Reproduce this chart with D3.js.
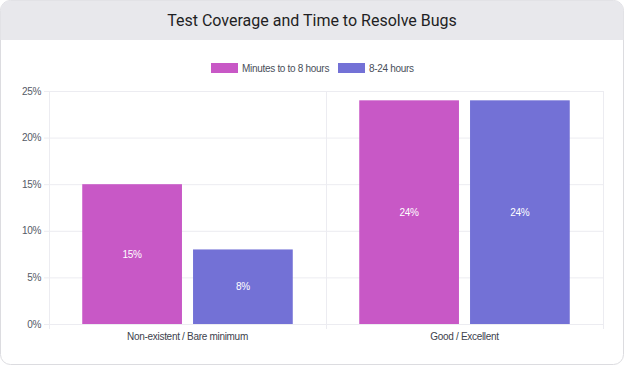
<!DOCTYPE html>
<html><head><meta charset="utf-8">
<script src="https://cdn.jsdelivr.net/npm/d3@7"></script>
<style>html,body{margin:0;padding:0;background:#fff;}svg{display:block;}</style>
</head><body>
<svg id="chart" width="624" height="365"></svg>
<script>
const title = "Test Coverage and Time to Resolve Bugs";
const categories = ["Non-existent / Bare minimum", "Good / Excellent"];
const seriesNames = ["Minutes to to 8 hours", "8-24 hours"];
const seriesColors = ["#c858c6", "#7371d6"];
const minutesTo8h = [15, 24];
const hours8to24 = [8, 24];
const yTicks = [0, 5, 10, 15, 20, 25];

const series = [minutesTo8h, hours8to24];
const svg = d3.select("#chart");
const W = 624, H = 365;
const font = "'Liberation Sans', Arial, sans-serif";
const fs = 10, ls = -0.3;

// card
svg.append("rect").attr("x",0.5).attr("y",0.5).attr("width",W-1).attr("height",H-1)
  .attr("rx",10).attr("fill","#fff").attr("stroke","#dcdce0");
const clip = svg.append("defs").append("clipPath").attr("id","cc");
clip.append("rect").attr("x",0.5).attr("y",0.5).attr("width",W-1).attr("height",H-1).attr("rx",10);
svg.append("rect").attr("x",0).attr("y",0).attr("width",W).attr("height",40)
  .attr("fill","#e8e8ec").attr("clip-path","url(#cc)");
svg.append("text").attr("x",W/2).attr("y",26).attr("text-anchor","middle")
  .attr("font-family","Roboto, sans-serif").attr("font-size",16).attr("fill","#1f1f24")
  .text(title);

// scales
const m = {l:49, r:603, t:91, b:324};
const x0 = d3.scaleBand().domain(categories).range([m.l, m.r]).paddingInner(0).paddingOuter(0);
const x1 = d3.scaleBand().domain(seriesNames).range([0, x0.bandwidth()*0.8]).paddingInner(0.1).paddingOuter(0.05);
const y = d3.scaleLinear().domain([0,25]).range([m.b, m.t]);

// grid
const g = svg.append("g");
g.selectAll("line.h").data(yTicks).join("line")
  .attr("x1",m.l-5).attr("x2",m.r).attr("y1",d=>y(d)+0.5).attr("y2",d=>y(d)+0.5)
  .attr("stroke","#ececf1").attr("stroke-width",1);
const vx = [m.l, m.l + x0.bandwidth(), m.r];
g.selectAll("line.v").data(vx).join("line")
  .attr("x1",d=>d+0.5).attr("x2",d=>d+0.5).attr("y1",m.t).attr("y2",m.b+5)
  .attr("stroke","#ececf1").attr("stroke-width",1);

// y labels
g.selectAll("text.yl").data(yTicks).join("text")
  .attr("x",m.l-8).attr("y",d=>y(d)+3.5).attr("text-anchor","end")
  .attr("font-family",font).attr("font-size",fs).attr("letter-spacing",ls).attr("fill","#555a66")
  .text(d=>d+"%");

// bars
const bars = svg.append("g");
categories.forEach((c,ci)=>{
  const off = x0(c) + x0.bandwidth()*0.1;
  seriesNames.forEach((s,si)=>{
    const v = series[si][ci];
    const bx = off + x1(s), bw = x1.bandwidth();
    bars.append("rect").attr("x",bx).attr("y",y(v)).attr("width",bw).attr("height",y(0)-y(v))
      .attr("fill",seriesColors[si]);
    bars.append("text").attr("x",bx+bw/2).attr("y",(y(v)+y(0))/2+3.5).attr("text-anchor","middle")
      .attr("font-family",font).attr("font-size",fs).attr("letter-spacing",ls).attr("fill","#fff").text(v+"%");
  });
  svg.append("text").attr("x",x0(c)+x0.bandwidth()/2).attr("y",340).attr("text-anchor","middle")
    .attr("font-family",font).attr("font-size",fs).attr("letter-spacing",ls).attr("fill","#3d424d").text(c);
});

// legend
const leg = svg.append("g");
const legX = [211, 338];
seriesNames.forEach((s,i)=>{
  leg.append("rect").attr("x",legX[i]).attr("y",63).attr("width",27).attr("height",10).attr("fill",seriesColors[i]);
  leg.append("text").attr("x",legX[i]+31).attr("y",71.5).attr("font-family",font).attr("font-size",fs)
    .attr("letter-spacing",ls).attr("fill","#4a4f5a").text(s);
});
</script>
</body></html>
